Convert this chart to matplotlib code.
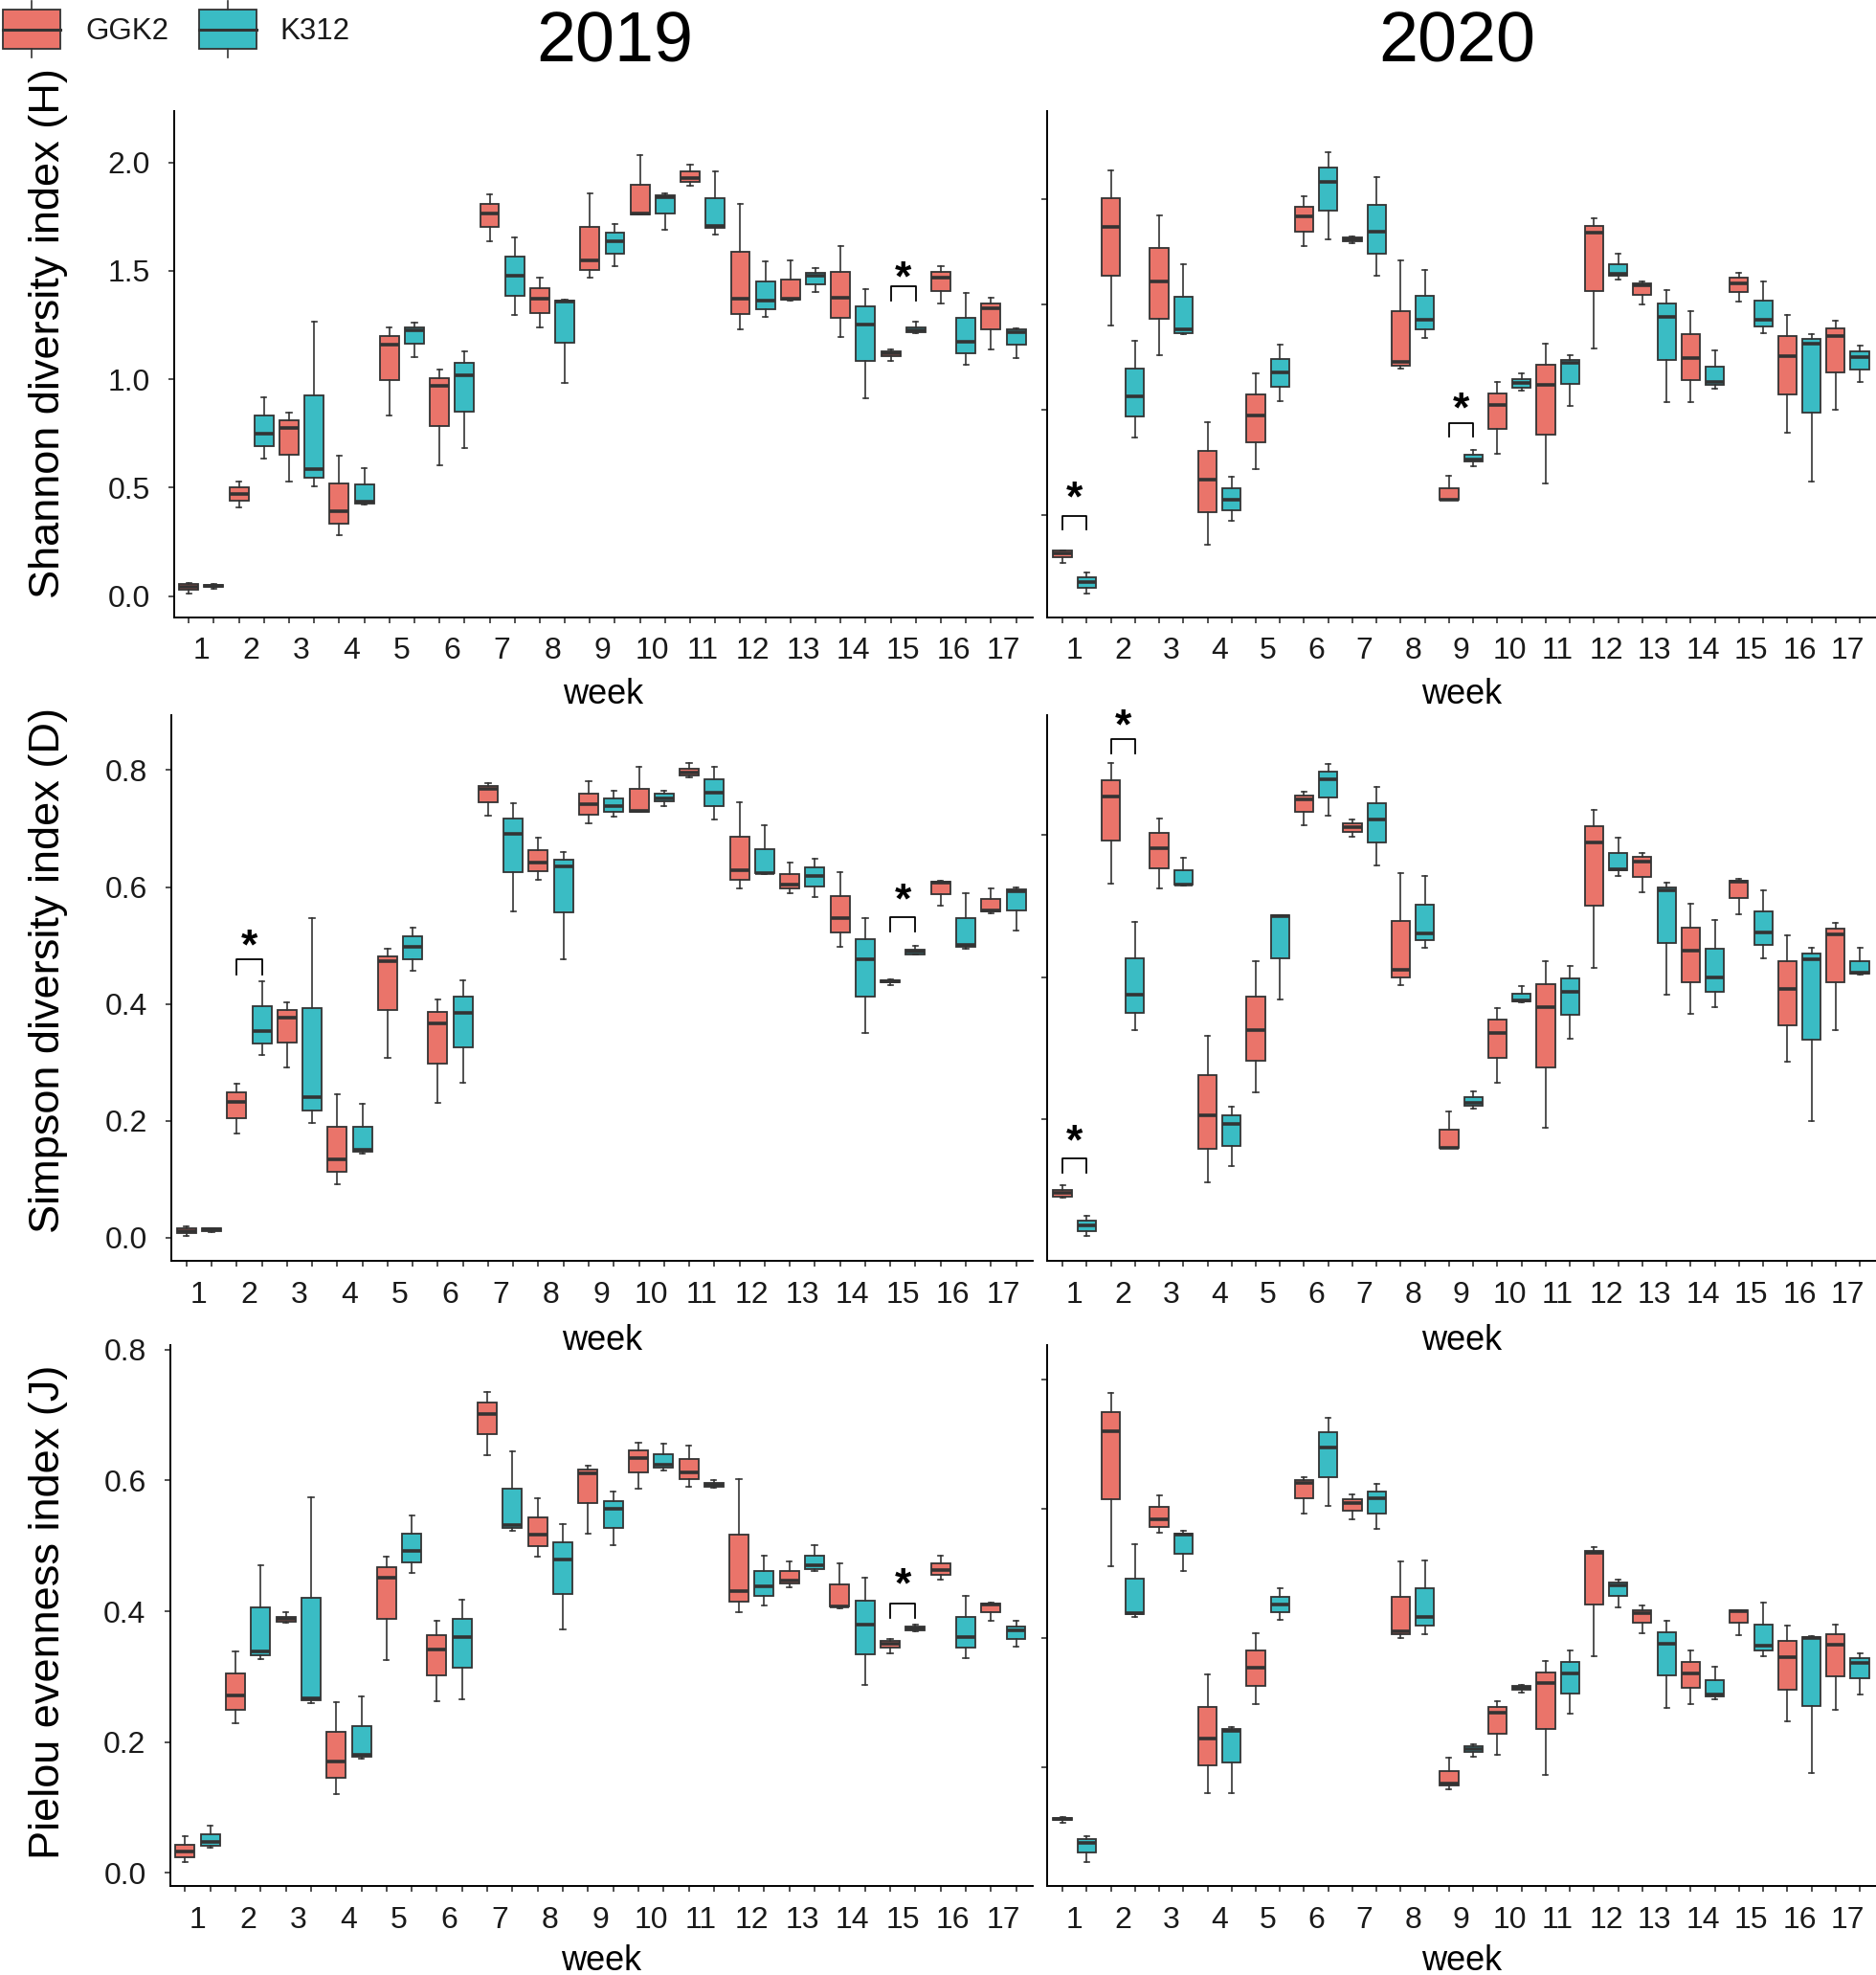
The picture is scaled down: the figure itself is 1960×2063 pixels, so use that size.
import matplotlib
matplotlib.use('Agg')
import matplotlib.pyplot as plt
from matplotlib.patches import Rectangle
from matplotlib.transforms import offset_copy

plt.rcParams['font.family'] = ['Liberation Sans', 'DejaVu Sans']

# ---------------- data: per week (low whisker, Q1, median, Q3, high whisker) -------------
weeks = list(range(1, 18))
groups = ['GGK2', 'K312']

H2019_GGK2 = [(0.011, 0.030, 0.041, 0.056, 0.062), (0.410, 0.439, 0.470, 0.500, 0.526),
              (0.527, 0.651, 0.776, 0.811, 0.844), (0.279, 0.334, 0.391, 0.519, 0.648),
              (0.835, 0.996, 1.159, 1.199, 1.238), (0.603, 0.785, 0.969, 1.007, 1.044),
              (1.639, 1.702, 1.764, 1.807, 1.853), (1.238, 1.305, 1.370, 1.419, 1.468),
              (1.468, 1.506, 1.547, 1.704, 1.859), (1.760, 1.762, 1.765, 1.899, 2.035),
              (1.895, 1.911, 1.929, 1.959, 1.989), (1.232, 1.302, 1.370, 1.588, 1.807),
              (1.363, 1.367, 1.370, 1.460, 1.550), (1.194, 1.284, 1.376, 1.495, 1.615),
              (1.083, 1.107, 1.118, 1.127, 1.139), (1.348, 1.408, 1.468, 1.495, 1.522),
              (1.137, 1.232, 1.327, 1.351, 1.376)]
H2019_K312 = [(0.033, 0.040, 0.046, 0.052, 0.054), (0.635, 0.690, 0.747, 0.831, 0.917),
              (0.505, 0.546, 0.587, 0.925, 1.264), (0.420, 0.426, 0.434, 0.513, 0.592),
              (1.102, 1.164, 1.224, 1.241, 1.261), (0.681, 0.850, 1.020, 1.075, 1.127),
              (1.298, 1.387, 1.476, 1.564, 1.653), (0.983, 1.170, 1.357, 1.362, 1.367),
              (1.523, 1.580, 1.637, 1.677, 1.717), (1.691, 1.767, 1.842, 1.851, 1.859),
              (1.667, 1.698, 1.709, 1.834, 1.959), (1.287, 1.325, 1.363, 1.452, 1.542),
              (1.403, 1.439, 1.476, 1.492, 1.512), (0.914, 1.085, 1.254, 1.335, 1.417),
              (1.215, 1.216, 1.227, 1.241, 1.268), (1.067, 1.120, 1.172, 1.283, 1.397),
              (1.097, 1.158, 1.219, 1.229, 1.237)]
H2020_GGK2 = [(0.273, 0.301, 0.320, 0.332, 0.334), (1.403, 1.636, 1.871, 2.005, 2.139),
              (1.259, 1.435, 1.612, 1.767, 1.922), (0.359, 0.515, 0.672, 0.807, 0.943),
              (0.722, 0.848, 0.972, 1.073, 1.173), (1.777, 1.848, 1.917, 1.964, 2.013),
              (1.793, 1.803, 1.811, 1.819, 1.824), (1.196, 1.212, 1.228, 1.468, 1.709),
              (0.573, 0.573, 0.576, 0.631, 0.688), (0.793, 0.909, 1.024, 1.079, 1.133),
              (0.652, 0.885, 1.118, 1.217, 1.314), (1.291, 1.565, 1.841, 1.875, 1.908),
              (1.500, 1.545, 1.591, 1.600, 1.612), (1.036, 1.141, 1.246, 1.359, 1.469),
              (1.516, 1.560, 1.602, 1.626, 1.652), (0.893, 1.074, 1.254, 1.353, 1.453),
              (1.002, 1.178, 1.353, 1.388, 1.426)]
H2020_K312 = [(0.129, 0.157, 0.184, 0.207, 0.230), (0.869, 0.968, 1.066, 1.196, 1.327),
              (1.358, 1.367, 1.383, 1.539, 1.694), (0.476, 0.524, 0.574, 0.629, 0.683),
              (1.044, 1.110, 1.178, 1.243, 1.311), (1.809, 1.947, 2.084, 2.152, 2.222),
              (1.639, 1.743, 1.846, 1.974, 2.105), (1.340, 1.383, 1.427, 1.544, 1.665),
              (0.735, 0.757, 0.765, 0.788, 0.811), (1.092, 1.108, 1.128, 1.147, 1.172),
              (1.021, 1.123, 1.223, 1.239, 1.261), (1.620, 1.636, 1.646, 1.693, 1.741),
              (1.037, 1.239, 1.443, 1.506, 1.571), (1.102, 1.118, 1.131, 1.206, 1.283),
              (1.367, 1.398, 1.427, 1.518, 1.612), (0.663, 0.990, 1.316, 1.337, 1.361),
              (1.131, 1.191, 1.252, 1.277, 1.304)]

D2019_GGK2 = [(0.003, 0.008, 0.012, 0.017, 0.020), (0.178, 0.205, 0.232, 0.248, 0.264),
              (0.291, 0.334, 0.376, 0.389, 0.402), (0.091, 0.113, 0.134, 0.190, 0.246),
              (0.308, 0.389, 0.473, 0.482, 0.494), (0.230, 0.298, 0.366, 0.386, 0.407),
              (0.722, 0.745, 0.768, 0.773, 0.777), (0.613, 0.627, 0.642, 0.663, 0.684),
              (0.709, 0.724, 0.741, 0.760, 0.781), (0.728, 0.729, 0.731, 0.768, 0.806),
              (0.787, 0.791, 0.796, 0.802, 0.812), (0.598, 0.613, 0.628, 0.686, 0.745),
              (0.590, 0.598, 0.604, 0.622, 0.642), (0.498, 0.523, 0.546, 0.585, 0.625),
              (0.432, 0.437, 0.439, 0.441, 0.442), (0.568, 0.588, 0.607, 0.609, 0.610),
              (0.555, 0.558, 0.560, 0.579, 0.598)]
D2019_K312 = [(0.010, 0.012, 0.014, 0.016, 0.017), (0.312, 0.333, 0.354, 0.396, 0.438),
              (0.196, 0.218, 0.240, 0.393, 0.546), (0.144, 0.147, 0.150, 0.189, 0.229),
              (0.456, 0.477, 0.498, 0.515, 0.531), (0.265, 0.325, 0.385, 0.413, 0.441),
              (0.559, 0.625, 0.691, 0.717, 0.744), (0.477, 0.557, 0.636, 0.647, 0.659),
              (0.721, 0.729, 0.738, 0.751, 0.764), (0.739, 0.746, 0.752, 0.759, 0.764),
              (0.716, 0.739, 0.762, 0.784, 0.806), (0.622, 0.623, 0.624, 0.665, 0.706),
              (0.583, 0.601, 0.619, 0.633, 0.648), (0.351, 0.413, 0.477, 0.511, 0.546),
              (0.485, 0.485, 0.490, 0.493, 0.499), (0.494, 0.498, 0.501, 0.546, 0.590),
              (0.526, 0.560, 0.593, 0.596, 0.599)]
D2020_GGK2 = [(0.089, 0.091, 0.096, 0.100, 0.107), (0.532, 0.593, 0.654, 0.678, 0.701),
              (0.525, 0.553, 0.582, 0.603, 0.624), (0.111, 0.158, 0.206, 0.262, 0.317),
              (0.238, 0.282, 0.325, 0.373, 0.423), (0.614, 0.633, 0.651, 0.656, 0.661),
              (0.598, 0.605, 0.611, 0.616, 0.622), (0.389, 0.400, 0.410, 0.479, 0.547),
              (0.159, 0.159, 0.160, 0.185, 0.211), (0.252, 0.287, 0.322, 0.340, 0.357),
              (0.188, 0.273, 0.358, 0.390, 0.422), (0.413, 0.501, 0.590, 0.612, 0.635),
              (0.519, 0.541, 0.563, 0.569, 0.575), (0.349, 0.393, 0.437, 0.470, 0.503),
              (0.489, 0.511, 0.534, 0.536, 0.539), (0.281, 0.332, 0.384, 0.422, 0.459),
              (0.325, 0.393, 0.460, 0.468, 0.477)]
D2020_K312 = [(0.035, 0.043, 0.051, 0.057, 0.064), (0.325, 0.350, 0.375, 0.426, 0.478),
              (0.529, 0.530, 0.531, 0.550, 0.568), (0.134, 0.163, 0.193, 0.205, 0.218),
              (0.369, 0.427, 0.486, 0.487, 0.487), (0.627, 0.653, 0.679, 0.690, 0.700),
              (0.557, 0.590, 0.622, 0.645, 0.668), (0.442, 0.452, 0.461, 0.502, 0.543),
              (0.215, 0.219, 0.223, 0.231, 0.239), (0.365, 0.366, 0.367, 0.377, 0.388),
              (0.314, 0.347, 0.380, 0.398, 0.416), (0.543, 0.550, 0.552, 0.575, 0.596),
              (0.375, 0.448, 0.522, 0.526, 0.533), (0.358, 0.380, 0.400, 0.440, 0.480),
              (0.427, 0.445, 0.463, 0.492, 0.522), (0.198, 0.312, 0.425, 0.433, 0.441),
              (0.404, 0.405, 0.406, 0.423, 0.441)]

J2019_GGK2 = [(0.017, 0.024, 0.032, 0.043, 0.056), (0.229, 0.250, 0.271, 0.305, 0.339),
              (0.382, 0.384, 0.388, 0.392, 0.399), (0.120, 0.145, 0.170, 0.215, 0.261),
              (0.325, 0.388, 0.452, 0.468, 0.484), (0.262, 0.302, 0.342, 0.364, 0.386),
              (0.639, 0.671, 0.702, 0.719, 0.736), (0.484, 0.500, 0.517, 0.544, 0.573),
              (0.518, 0.565, 0.611, 0.617, 0.623), (0.588, 0.612, 0.635, 0.646, 0.658),
              (0.591, 0.602, 0.613, 0.633, 0.654), (0.398, 0.415, 0.431, 0.517, 0.602),
              (0.437, 0.443, 0.447, 0.462, 0.476), (0.405, 0.407, 0.408, 0.441, 0.474),
              (0.336, 0.344, 0.350, 0.355, 0.358), (0.449, 0.456, 0.463, 0.474, 0.485),
              (0.386, 0.399, 0.411, 0.412, 0.413)]
J2019_K312 = [(0.038, 0.042, 0.047, 0.059, 0.072), (0.327, 0.333, 0.339, 0.406, 0.471),
              (0.260, 0.264, 0.267, 0.421, 0.575), (0.175, 0.178, 0.181, 0.225, 0.270),
              (0.459, 0.475, 0.492, 0.519, 0.547), (0.266, 0.313, 0.360, 0.388, 0.417),
              (0.523, 0.527, 0.532, 0.588, 0.644), (0.372, 0.426, 0.479, 0.506, 0.533),
              (0.501, 0.528, 0.556, 0.569, 0.583), (0.615, 0.620, 0.624, 0.640, 0.656),
              (0.589, 0.590, 0.593, 0.596, 0.601), (0.409, 0.424, 0.438, 0.461, 0.485),
              (0.461, 0.465, 0.470, 0.485, 0.501), (0.287, 0.334, 0.380, 0.416, 0.452),
              (0.369, 0.371, 0.374, 0.377, 0.380), (0.328, 0.344, 0.360, 0.391, 0.424),
              (0.346, 0.358, 0.371, 0.377, 0.385)]
J2020_GGK2 = [(0.114, 0.118, 0.119, 0.121, 0.122), (0.511, 0.615, 0.720, 0.749, 0.779),
              (0.562, 0.572, 0.583, 0.602, 0.621), (0.160, 0.202, 0.244, 0.293, 0.343),
              (0.297, 0.325, 0.354, 0.380, 0.407), (0.592, 0.616, 0.640, 0.644, 0.648),
              (0.583, 0.596, 0.609, 0.615, 0.622), (0.399, 0.405, 0.410, 0.464, 0.518),
              (0.166, 0.171, 0.175, 0.194, 0.215), (0.219, 0.251, 0.284, 0.293, 0.302),
              (0.188, 0.259, 0.330, 0.347, 0.364), (0.372, 0.451, 0.531, 0.535, 0.540),
              (0.407, 0.423, 0.438, 0.443, 0.450), (0.298, 0.322, 0.345, 0.362, 0.380),
              (0.404, 0.423, 0.441, 0.442, 0.443), (0.271, 0.320, 0.370, 0.395, 0.419),
              (0.289, 0.340, 0.390, 0.405, 0.421)]
J2020_K312 = [(0.053, 0.068, 0.083, 0.088, 0.093), (0.433, 0.436, 0.438, 0.492, 0.545),
              (0.503, 0.530, 0.559, 0.561, 0.566), (0.159, 0.207, 0.256, 0.259, 0.262),
              (0.428, 0.440, 0.452, 0.464, 0.477), (0.604, 0.649, 0.695, 0.718, 0.741),
              (0.569, 0.592, 0.616, 0.627, 0.638), (0.406, 0.419, 0.433, 0.476, 0.519),
              (0.216, 0.224, 0.228, 0.233, 0.235), (0.315, 0.320, 0.322, 0.326, 0.327),
              (0.283, 0.314, 0.345, 0.363, 0.381), (0.447, 0.465, 0.481, 0.486, 0.490),
              (0.292, 0.342, 0.391, 0.409, 0.426), (0.305, 0.310, 0.313, 0.334, 0.355),
              (0.372, 0.380, 0.388, 0.421, 0.455), (0.191, 0.295, 0.399, 0.401, 0.403),
              (0.313, 0.338, 0.361, 0.369, 0.376)]

# significance marks: (week, bracket top, bracket leg end, star height)
H2019_sig = [(15, 1.428, 1.365, 1.52)]
H2020_sig = [(1, 0.498, 0.434, 0.633), (9, 0.939, 0.875, 1.058)]
D2019_sig = [(2, 0.476, 0.451, 0.518), (15, 0.549, 0.524, 0.596)]
D2020_sig = [(1, 0.145, 0.124, 0.184), (2, 0.735, 0.715, 0.769)]
J2019_sig = [(15, 0.412, 0.390, 0.457)]
J2020_sig = []

ylabels = ['Shannon diversity index (H)', 'Simpson diversity index (D)', 'Pielou evenness index (J)']
years = ['2019', '2020']

# ---------------- layout / style ---------------------------------------------------------
W, H = 1960, 2063
fig = plt.figure(figsize=(W / 100, H / 100), dpi=100)
fig.patch.set_facecolor('white')

colors = {'GGK2': '#EA746A', 'K312': '#3ABCC4'}
EDGE = '#333333'

def rect(l, r, t, b):
    return [l / W, 1 - b / H, (r - l) / W, (b - t) / H]

rows = [(115.7, 644.5), (747.0, 1316.7), (1405.0, 1970.0)]
week_top = [63.5, 66.0, 61.0]          # px from axis bottom to top of the "week" label
lefts_L = [181.5, 179.0, 177.6]
right_L = 1078.6
left_R, right_R = 1094.4, 1960.0

panel_specs = [
    (0, 0, H2019_GGK2, H2019_K312, (-0.097, 2.239), [0.0, 0.5, 1.0, 1.5, 2.0], H2019_sig, 0.56),
    (0, 1, H2020_GGK2, H2020_K312, (0.018, 2.42), [0.5, 1.0, 1.5, 2.0], H2020_sig, None),
    (1, 0, D2019_GGK2, D2019_K312, (-0.039, 0.894), [0.0, 0.2, 0.4, 0.6, 0.8], D2019_sig, 0.532),
    (1, 1, D2020_GGK2, D2020_K312, (0.001, 0.769), [0.2, 0.4, 0.6], D2020_sig, None),
    (2, 0, J2019_GGK2, J2019_K312, (-0.020, 0.807), [0.0, 0.2, 0.4, 0.6, 0.8], J2019_sig, 0.506),
    (2, 1, J2020_GGK2, J2020_K312, (0.016, 0.853), [0.2, 0.4, 0.6, 0.8], J2020_sig, None),
]

for row, col, dG, dK, ylim, yticks, sig, ylab_y in panel_specs:
    top, bot = rows[row]
    if col == 0:
        l, r = lefts_L[row], right_L
        xlim = (-0.60, 33.65)
    else:
        l, r = left_R, right_R
        xlim = (-0.62, 33.67)
    ax = fig.add_axes(rect(l, r, top, bot))
    ax.patch.set_visible(False)
    for gi, (g, data) in enumerate([('GGK2', dG), ('K312', dK)]):
        stats = [dict(whislo=a, q1=b, med=c, q3=d, whishi=e, fliers=[]) for (a, b, c, d, e) in data]
        pos = [2 * (w - 1) + gi for w in weeks]
        ax.bxp(stats, positions=pos, widths=0.76, patch_artist=True, showfliers=False,
               capwidths=0.2,
               boxprops=dict(facecolor=colors[g], edgecolor=EDGE, linewidth=1.3),
               medianprops=dict(color=EDGE, linewidth=2.6, solid_capstyle='butt'),
               whiskerprops=dict(color=EDGE, linewidth=1.2),
               capprops=dict(color=EDGE, linewidth=1.2))
    ax.set_xlim(*xlim)
    ax.set_ylim(*ylim)
    for s in ['top', 'right']:
        ax.spines[s].set_visible(False)
    for s in ['left', 'bottom']:
        ax.spines[s].set_linewidth(1.4)
        ax.spines[s].set_color('black')
    ax.set_xticks([2 * (w - 1) + 0.5 for w in weeks])
    ax.set_xticklabels([str(w) for w in weeks])
    ax.set_xticks([2 * (w - 1) + gi for w in weeks for gi in (0, 1)], minor=True)
    ax.tick_params(axis='x', which='major', length=0, pad=15, labelsize=23, labelcolor='#1a1a1a')
    ax.tick_params(axis='x', which='minor', length=4, width=1.2, color='#333333')
    ax.set_yticks(yticks)
    ax.tick_params(axis='y', which='major', length=4, width=1.2, color='#333333', pad=14,
                   labelsize=23, labelcolor='#1a1a1a')
    if col == 0:
        ax.set_yticklabels(['%.1f' % v for v in yticks])
        ax.set_ylabel(ylabels[row], fontsize=32.5)
        ax.yaxis.set_label_coords((71 - l) / (r - l), ylab_y)
    else:
        ax.set_yticklabels([])
    ax.set_xlabel('week', fontsize=26)
    ax.xaxis.set_label_coords(0.5, -week_top[row] / (bot - top))
    star_tr = offset_copy(ax.transData, fig=fig, x=0, y=-9.5, units='points')
    for w, btop, bleg, sy in sig:
        x0 = 2 * (w - 1)
        x1 = x0 + 1
        ax.plot([x0, x0, x1, x1], [bleg, btop, btop, bleg], color='black', lw=1.3,
                clip_on=False, zorder=5)
        ax.text((x0 + x1) / 2, sy, '*', ha='center', va='center', fontsize=32,
                fontweight='bold', transform=star_tr, clip_on=False)

# titles
fig.text(642 / W, 1 - 45 / H, years[0], ha='center', va='center', fontsize=53)
fig.text(1522 / W, 1 - 45 / H, years[1], ha='center', va='center', fontsize=53)

# legend (drawn in pixel space)
lax = fig.add_axes([0, 0, 1, 1], facecolor='none')
lax.set_xlim(0, W)
lax.set_ylim(H, 0)
lax.axis('off')
for x0, g, tx in [(3, 'GGK2', 89), (208, 'K312', 292)]:
    lax.add_patch(Rectangle((x0, 10), 60, 41, facecolor=colors[g], edgecolor=EDGE, lw=1.3))
    lax.plot([x0, x0 + 60], [30.5, 30.5], color=EDGE, lw=2.2)
    lax.plot([x0 + 30, x0 + 30], [1, 10], color=EDGE, lw=1.2)
    lax.plot([x0 + 30, x0 + 30], [51, 60], color=EDGE, lw=1.2)
    lax.text(tx, 33, g, ha='left', va='center', fontsize=22.5, color='#1a1a1a')

fig.savefig('out.png', dpi=100, facecolor='white')
